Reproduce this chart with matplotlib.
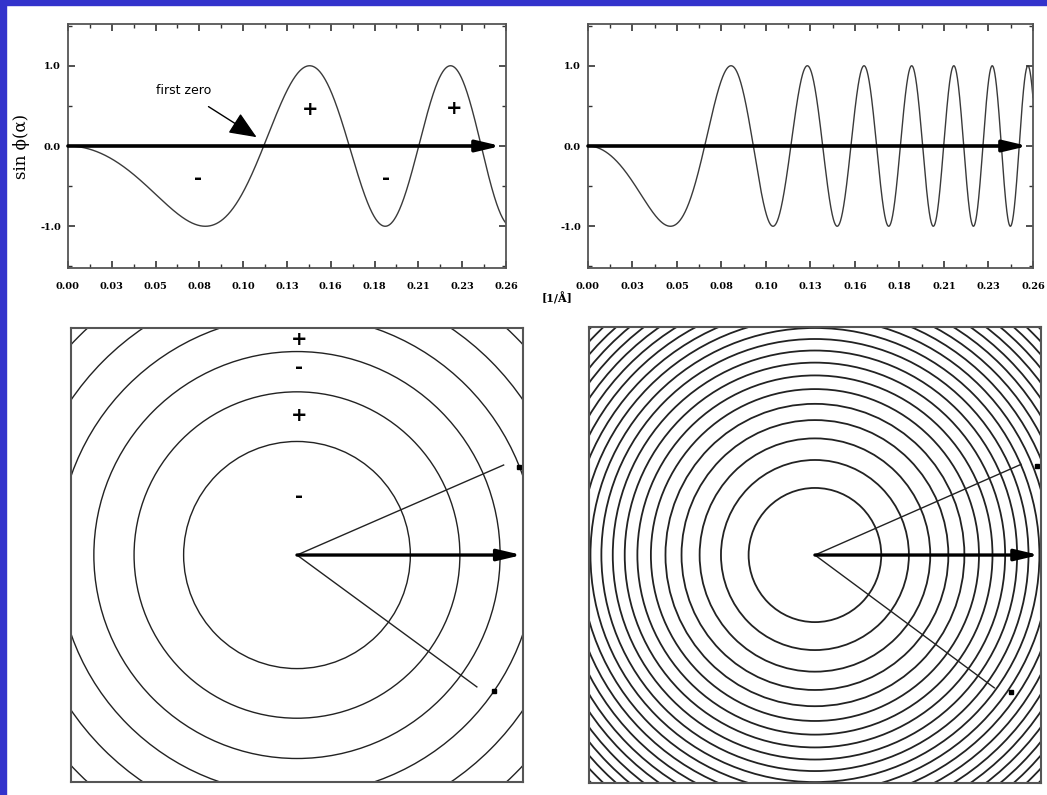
import numpy as np
import matplotlib.pyplot as plt
from matplotlib.patches import Circle

# spatial frequency [1/Å] at which each curve passes a zero or an extremum,
# in order (every entry is one more quarter period of the phase)
left_steps = [0.0825, 0.117, 0.144, 0.1668, 0.188, 0.2078, 0.227, 0.2457]
right_steps = [0.0477, 0.0678, 0.0828, 0.0964, 0.1085, 0.1182, 0.1285, 0.137,
               0.1457, 0.1535, 0.1617, 0.1689, 0.1757, 0.1821, 0.1895, 0.1957,
               0.2022, 0.2074, 0.2139, 0.2191, 0.2255, 0.2304, 0.2363, 0.2405,
               0.2474, 0.2522, 0.2571]

f_max = 0.26
x_ticks = np.linspace(0, f_max, 11)
x_tick_labels = ['0.00', '0.03', '0.05', '0.08', '0.10', '0.13', '0.16',
                 '0.18', '0.21', '0.23', '0.26']
y_ticks = [-1.0, 0.0, 1.0]
y_tick_labels = ['-1.0', '0.0', '1.0']

# +/- marks on the top-left curve
curve_signs = ['-', '+', '-', '+']
curve_sign_f = [0.077, 0.1437, 0.189, 0.229]
curve_sign_y = [-0.41, 0.46, -0.41, 0.47]

# +/- marks in the left ring map (distance above the centre)
ring_signs = ['-', '+', '-', '+']
ring_sign_r = [0.06, 0.143, 0.192, 0.2205]

# ring maps: half width of the square, rays and dots
ring_half = 0.232
ray_angles = [23.5, -36.2]
ray_lengths = [0.231, 0.2285]
dot_angles = [21.6, -34.5]
dot_radius = 0.245
arrow_tip = 0.2305


def phase_coeffs(steps):
    f = np.asarray(steps)
    n = np.arange(1, len(f) + 1)
    A = np.column_stack([f**2, f**4])
    coef, *_ = np.linalg.lstsq(A, n, rcond=None)
    return coef


def ctf(f, coef):
    n = coef[0] * f**2 + coef[1] * f**4
    return -np.sin(n * np.pi / 2)


def zero_radii(coef, rmax):
    radii = []
    k = 2
    while True:
        roots = np.roots([coef[1], coef[0], -k])
        roots = roots[np.isreal(roots)].real
        roots = roots[roots > 0]
        if len(roots) == 0:
            break
        r = np.sqrt(roots.min())
        if r > rmax:
            break
        radii.append(r)
        k += 2
    return radii


def curve_panel(ax, coef):
    f = np.linspace(0, f_max, 3000)
    ax.plot(f, ctf(f, coef), color='#3a3a3a', lw=1.0)
    ax.annotate('', xy=(0.257, 0), xytext=(0, 0),
                arrowprops=dict(arrowstyle='-|>,head_length=0.72,head_width=0.17',
                                lw=2.6, color='black', mutation_scale=20,
                                shrinkA=0, shrinkB=0))
    ax.set_xlim(0, f_max)
    ax.set_ylim(-1.52, 1.52)
    ax.set_xticks(x_ticks)
    ax.set_xticklabels(x_tick_labels)
    ax.set_xticks(x_ticks[:-1] + f_max / 20, minor=True)
    ax.set_yticks(y_ticks)
    ax.set_yticklabels(y_tick_labels)
    ax.set_yticks([-1.5, -0.5, 0.5, 1.5], minor=True)
    ax.tick_params(which='both', direction='in', top=True, right=True,
                   color='#333333')
    ax.tick_params(which='major', length=5, width=1.2)
    ax.tick_params(which='minor', length=3, width=1.0)
    ax.tick_params(axis='x', pad=10)
    ax.tick_params(axis='y', pad=5)
    for lab in ax.get_xticklabels() + ax.get_yticklabels():
        lab.set_family('DejaVu Serif')
        lab.set_weight('bold')
        lab.set_fontsize(7)
    for s in ax.spines.values():
        s.set_color('#555555')
        s.set_linewidth(1.3)


def ring_panel(ax, coef, lw):
    for r in zero_radii(coef, ring_half * 1.45):
        ax.add_patch(Circle((0, 0), r, fill=False, color='#222222', lw=lw))
    for ang, ln in zip(ray_angles, ray_lengths):
        a = np.deg2rad(ang)
        ax.plot([0, ln * np.cos(a)], [0, ln * np.sin(a)], color='#222222', lw=1.0)
    for ang in dot_angles:
        a = np.deg2rad(ang)
        ax.plot(dot_radius * np.cos(a), dot_radius * np.sin(a), 's',
                color='black', ms=3, clip_on=False)
    ax.annotate('', xy=(arrow_tip, 0), xytext=(0, 0),
                arrowprops=dict(arrowstyle='-|>,head_length=0.72,head_width=0.17',
                                lw=2.4, color='black', mutation_scale=20,
                                shrinkA=0, shrinkB=0))
    ax.set_xlim(-ring_half, ring_half)
    ax.set_ylim(-ring_half, ring_half)
    ax.set_xticks([])
    ax.set_yticks([])
    for s in ax.spines.values():
        s.set_color('#555555')
        s.set_linewidth(1.5)


left_coef = phase_coeffs(left_steps)
right_coef = phase_coeffs(right_steps)

fig = plt.figure(figsize=(10.47, 7.95), dpi=100)
fig.patch.set_facecolor('white')

ax_tl = fig.add_axes([0.0649, 0.6629, 0.4183, 0.3069])
ax_tr = fig.add_axes([0.5616, 0.6629, 0.4250, 0.3069])
ax_bl = fig.add_axes([0.0675, 0.0167, 0.4323, 0.5703])
ax_br = fig.add_axes([0.5628, 0.0147, 0.4311, 0.5743])

curve_panel(ax_tl, left_coef)
curve_panel(ax_tr, right_coef)
ring_panel(ax_bl, left_coef, 1.0)
ring_panel(ax_br, right_coef, 1.3)

for s, f, y in zip(curve_signs, curve_sign_f, curve_sign_y):
    ax_tl.text(f, y, s, ha='center', va='center', fontsize=14,
               fontweight='bold', family='DejaVu Sans')
for s, r in zip(ring_signs, ring_sign_r):
    ax_bl.text(0.002, r, s, ha='center', va='center', fontsize=14,
               fontweight='bold', family='DejaVu Sans')

ax_tl.annotate('first zero', xy=(0.112, 0.11), xytext=(0.0685, 0.69),
               ha='center', va='center', fontsize=9, family='DejaVu Sans',
               arrowprops=dict(arrowstyle='-|>,head_length=0.85,head_width=0.36',
                               lw=1.0, color='black', mutation_scale=20,
                               shrinkA=9, shrinkB=0))

fig.text(0.021, 0.816, 'sin \u03d5(\u03b1)', rotation=90, ha='center',
         va='center', fontsize=12, family='DejaVu Serif')
fig.text(0.532, 0.625, '[1/\u00c5]', ha='center', va='center', fontsize=8,
         family='DejaVu Serif', fontweight='bold')

# blue frame on the left and top edges
fig.patches.append(plt.Rectangle((0, 0), 6 / 1047, 1, transform=fig.transFigure,
                                 color='#3333cc', zorder=10))
fig.patches.append(plt.Rectangle((0, 1 - 5 / 795), 1, 5 / 795,
                                 transform=fig.transFigure, color='#3333cc',
                                 zorder=10))

fig.savefig('out.png', dpi=100)
